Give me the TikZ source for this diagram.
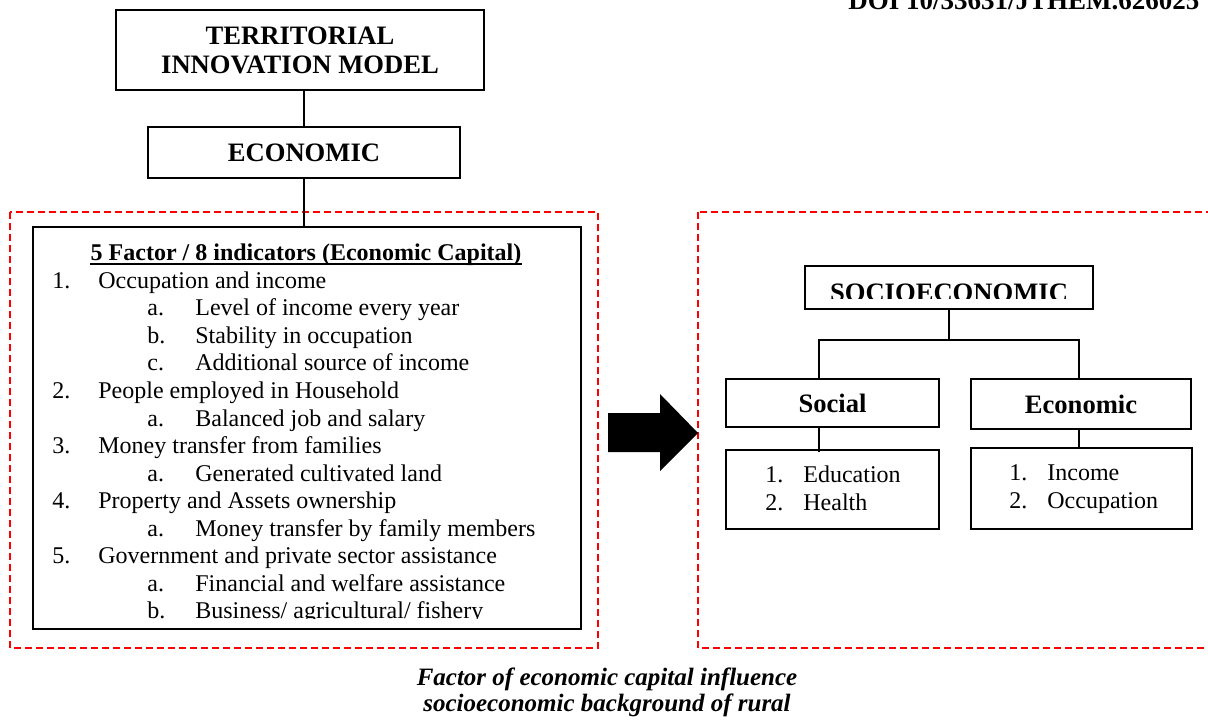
\documentclass[tikz,border=0pt]{standalone}
\usepackage{fontspec}
\setmainfont{Liberation Serif}
\begin{document}
\begin{tikzpicture}[x=0.5pt,y=-0.5pt,
  box/.style={draw=black, line width=1pt, inner sep=0pt},
  link/.style={draw=black, line width=0.6pt},
  frame/.style={draw=red, line width=1pt, dash pattern=on 3.5pt off 2pt},
  head/.style={font=\fontsize{13.3}{14.5}\selectfont\bfseries, align=center},
  item/.style={anchor=base west, inner sep=0pt, font=\fontsize{12}{13.8}\selectfont},
  captext/.style={anchor=base, inner sep=0pt, font=\fontsize{12.5}{14}\selectfont\bfseries\itshape},
]
\clip (0,0) rectangle (1208,722);

% running header
\node[anchor=base west, inner sep=0pt, font=\fontsize{13.5}{14}\selectfont\bfseries] (doi) at (848,10) {DOI 10/33631/JTHEM.626025};

% dashed groups
\draw[frame] (10,212) rectangle (598,648);
\draw[frame] (698,212) rectangle (1240,648);

% left column
\node[box, head, minimum width=184pt, minimum height=40pt] (tim) at (300,50) {TERRITORIAL\\INNOVATION MODEL};
\node[box, head, minimum width=156pt, minimum height=25.5pt] (eco) at (304,152.5) {ECONOMIC};
\node[box, minimum width=274pt, minimum height=201pt] (fac) at (307,428) {};

\draw[link] (eco.north) -- (eco.north |- tim.south);
\draw[link] (eco.south) -- (eco.south |- fac.north);

\node[anchor=base, inner sep=0pt, font=\fontsize{12}{13.8}\selectfont\bfseries] (facH) at (306,260) {5 Factor / 8 indicators (Economic Capital)};
\draw[line width=0.9pt] ([yshift=-1.9pt]facH.base west) -- ([yshift=-1.9pt]facH.base east);

\begin{scope}
\clip (34,228) rectangle (580,618.5);
\node[item] (r1)  at (52,288)  {\makebox[23pt][l]{1.}Occupation and income};
\node[item] (r1a) at (147,315) {\makebox[24pt][l]{a.}Level of income every year};
\node[item] (r1b) at (147,343) {\makebox[24pt][l]{b.}Stability in occupation};
\node[item] (r1c) at (147,370) {\makebox[24pt][l]{c.}Additional source of income};
\node[item] (r2)  at (52,398)  {\makebox[23pt][l]{2.}People employed in Household};
\node[item] (r2a) at (147,426) {\makebox[24pt][l]{a.}Balanced job and salary};
\node[item] (r3)  at (52,453)  {\makebox[23pt][l]{3.}Money transfer from families};
\node[item] (r3a) at (147,481) {\makebox[24pt][l]{a.}Generated cultivated land};
\node[item] (r4)  at (52,508)  {\makebox[23pt][l]{4.}Property and Assets ownership};
\node[item] (r4a) at (147,536) {\makebox[24pt][l]{a.}Money transfer by family members};
\node[item] (r5)  at (52,563)  {\makebox[23pt][l]{5.}Government and private sector assistance};
\node[item] (r5a) at (147,591) {\makebox[24pt][l]{a.}Financial and welfare assistance};
\node[item] (r5b) at (147,618) {\makebox[24pt][l]{b.}Business/ agricultural/ fishery};
\end{scope}

% block arrow between the groups
\fill[black] (608,413) -- (660,413) -- (660,394) -- (698,433) -- (660,471) -- (660,452) -- (608,452) -- cycle;

% right column
\node[box, minimum width=144pt, minimum height=21.5pt] (socio) at (949,287.5) {};
\begin{scope}
\clip (806,266) rectangle (1092,298.5);
\node[anchor=base, inner sep=0pt, font=\fontsize{13.3}{14.5}\selectfont\bfseries] (sociot) at (949,301) {SOCIOECONOMIC};
\end{scope}

\node[box, head, minimum width=106.5pt, minimum height=24pt] (social) at (832.5,403) {Social};
\node[box, head, minimum width=110pt, minimum height=25pt] (econ) at (1081,404) {Economic};
\node[box, minimum width=106.5pt, minimum height=39.5pt] (slist) at (832.5,489.5) {};
\node[box, minimum width=110.5pt, minimum height=40.5pt] (elist) at (1081.5,488.5) {};

\coordinate (busL) at (819,340);
\coordinate (busR) at (1079,340);
\draw[link] (socio.south) -- (socio.south |- busL);
\draw[link] (busL |- social.north) -- (busL) -- (busR) -- (busR |- econ.north);
\draw[link] (busL |- social.south) -- ([yshift=-1.5pt]busL |- slist.north);
\draw[link] (busR |- econ.south) -- (busR |- elist.north);

\node[item] (s1) at (765,482)  {\makebox[19pt][l]{1.}Education};
\node[item] (s2) at (765,510)  {\makebox[19pt][l]{2.}Health};
\node[item] (e1) at (1009,480) {\makebox[19pt][l]{1.}Income};
\node[item] (e2) at (1009,508) {\makebox[19pt][l]{2.}Occupation};

% caption
\node[captext] (cap1) at (607,685) {Factor of economic capital influence};
\node[captext] (cap2) at (607,711) {socioeconomic background of rural};
\end{tikzpicture}
\end{document}
